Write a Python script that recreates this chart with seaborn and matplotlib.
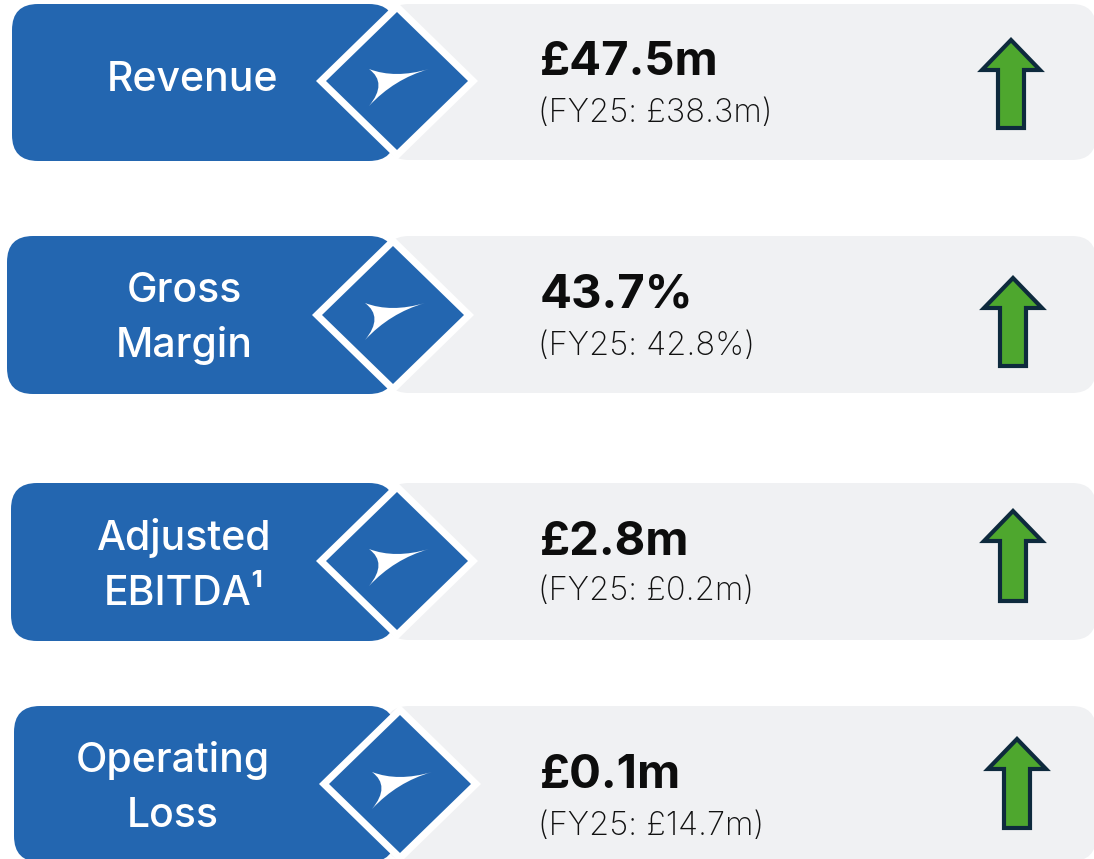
# KPI cards - recriação do infográfico de indicadores

import matplotlib.pyplot as plt
import seaborn as sns
from matplotlib.patches import FancyBboxPatch, Polygon, PathPatch
from matplotlib.path import Path

sns.set_theme(style="white")
plt.rcParams['font.family'] = ['Inter', 'DejaVu Sans']

# dados
metricas = [["Revenue"], ["Gross", "Margin"], ["Adjusted", "EBITDA¹"], ["Operating", "Loss"]]
valores = ["£47.5m", "43.7%", "£2.8m", "£0.1m"]
anteriores = ["(FY25: £38.3m)", "(FY25: 42.8%)", "(FY25: £0.2m)", "(FY25: £14.7m)"]
direcao = ["up", "up", "up", "up"]

# layout (pixels)
topo = [4, 236, 483, 706]
esquerda = [12, 7, 11, 14]
altura = [157, 158, 158, 156]
centro_diamante = [(397, 81), (393, 315), (397, 561), (400, 784)]
centro_rotulo = [193, 184, 184, 173]
base_rotulo = [[91], [302, 357], [550, 605], [772, 827]]
base_valor = [75, 308, 555, 788]
base_anterior = [122, 355, 600, 835]
seta_x = [1011, 1013, 1013, 1017]
seta_topo = [37, 275, 508, 736]
seta_base = [130, 368, 603, 830]

azul = "#2366B0"
cinza = "#F0F1F3"
verde = "#4EA72E"
contorno = "#0E2A3D"

fig = plt.figure(figsize=(10.94, 8.59), dpi=100)
ax = fig.add_axes([0, 0, 1, 1])
ax.set_xlim(0, 1094)
ax.set_ylim(859, 0)
ax.axis("off")

for i in range(len(metricas)):
    y0 = topo[i]
    h = altura[i]
    # painel cinza
    ax.add_patch(FancyBboxPatch((385, y0), 711, h - 1,
                                boxstyle="round,pad=0,rounding_size=24",
                                fc=cinza, ec="none"))
    # caixa azul
    ax.add_patch(FancyBboxPatch((esquerda[i], y0), 395 - esquerda[i], h,
                                boxstyle="round,pad=0,rounding_size=26",
                                fc=azul, ec="none"))
    # diamante
    cx, cy = centro_diamante[i]
    r = 81
    ax.add_patch(Polygon([(cx - r, cy), (cx, cy - r + 2), (cx + r, cy), (cx, cy + r - 2)],
                         closed=True, fc="white", ec="none"))
    r2 = 71
    ax.add_patch(Polygon([(cx - r2, cy), (cx, cy - r2 + 2), (cx + r2, cy), (cx, cy + r2 - 2)],
                         closed=True, fc=azul, ec="none"))
    # símbolo
    A = (cx - 28, cy - 12)
    B = (cx + 32, cy - 12)
    C = (cx - 28, cy + 25)
    verts = [A, (cx - 2, cy - 2), B, (cx - 3, cy - 2), C, (cx - 9, cy + 2), A]
    codes = [Path.MOVETO, Path.CURVE3, Path.CURVE3, Path.CURVE3, Path.CURVE3,
             Path.CURVE3, Path.CURVE3]
    ax.add_patch(PathPatch(Path(verts, codes), fc="white", ec="none"))

    # rótulo
    for linha, yb in zip(metricas[i], base_rotulo[i]):
        ax.text(centro_rotulo[i], yb, linha, color="white", fontsize=29.5,
                fontweight="medium", ha="center", va="baseline")

    # valores
    ax.text(540, base_valor[i], valores[i], color="#0d0d0d", fontsize=34,
            fontweight="bold", ha="left", va="baseline")
    ax.text(538, base_anterior[i], anteriores[i], color="#111111", fontsize=23.5,
            fontweight="light", ha="left", va="baseline")

    # seta
    sx = seta_x[i]
    t = seta_topo[i] + 3
    b = seta_base[i] - 2
    hb = t + 30
    if direcao[i] == "down":
        t, b = b, t
        hb = t - 30
    pts = [(sx, t), (sx + 29, hb), (sx + 13, hb), (sx + 13, b),
           (sx - 13, b), (sx - 13, hb), (sx - 29, hb)]
    ax.add_patch(Polygon(pts, closed=True, fc=verde, ec=contorno, lw=3, joinstyle="miter"))

fig.savefig("out.png", dpi=100, facecolor="white")
